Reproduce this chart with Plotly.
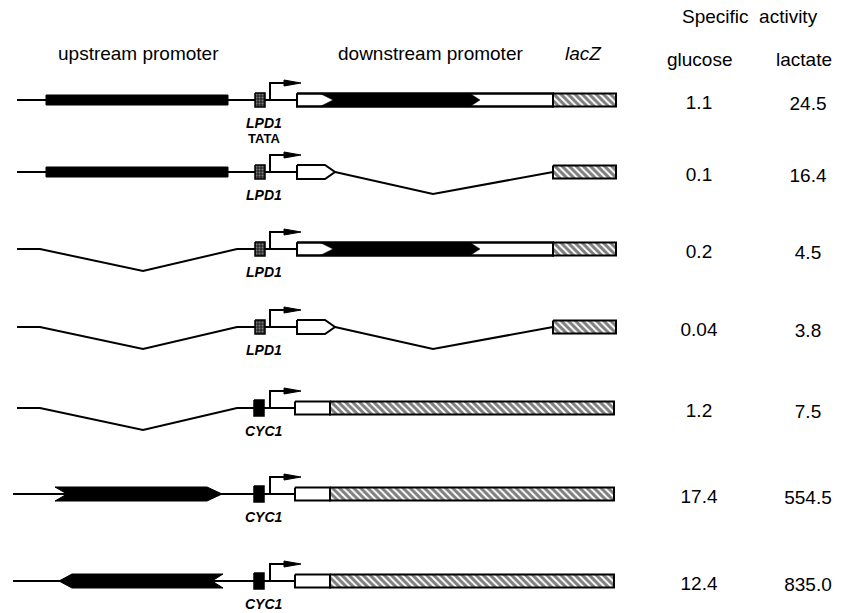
import plotly.graph_objects as go

# ---------------- data ----------------
upstream = ["UAS", "UAS", "deleted", "deleted", "deleted", "forward", "reverse"]
promoter = ["LPD1", "LPD1", "LPD1", "LPD1", "CYC1", "CYC1", "CYC1"]
promoter_note = ["TATA", "", "", "", "", "", ""]
downstream = ["full", "deleted", "full", "deleted", "short", "short", "short"]
glucose = ["1.1", "0.1", "0.2", "0.04", "1.2", "17.4", "12.4"]
lactate = ["24.5", "16.4", "4.5", "3.8", "7.5", "554.5", "835.0"]
column_headers = ["glucose", "lactate"]
section_headers = ["upstream promoter", "downstream promoter", "lacZ"]
title = "Specific activity"

# ---------------- layout geometry ----------------
W, H = 847, 613
ROW_Y = [100, 172, 249, 327, 408, 494, 581]
FONT = "Liberation Sans, Arial, Helvetica, sans-serif"
LW = 2

fig = go.Figure()


def line(xs, ys, width=LW, color="black"):
    fig.add_trace(go.Scatter(x=xs, y=ys, mode="lines",
                             line=dict(color=color, width=width),
                             hoverinfo="skip", showlegend=False))


def poly(xs, ys, fill="black", width=LW, pattern=None):
    xs = list(xs) + [xs[0]]
    ys = list(ys) + [ys[0]]
    kw = {}
    if pattern is not None:
        kw["fillpattern"] = pattern
    fig.add_trace(go.Scatter(x=xs, y=ys, mode="lines", fill="toself",
                             fillcolor=fill,
                             line=dict(color="black", width=width),
                             hoverinfo="skip", showlegend=False, **kw))


def rect(x0, x1, y0, y1, fill="white", width=LW, pattern=None):
    poly([x0, x1, x1, x0], [y0, y0, y1, y1], fill=fill, width=width, pattern=pattern)


HATCH = dict(shape="\\", bgcolor="white", fgcolor="black", size=5, solidity=0.6)
DOTS = dict(shape=".", bgcolor="#2a2a2a", fgcolor="#d0d0d0", size=3, solidity=0.35)

for i, y in enumerate(ROW_Y):
    # ---- upstream region ----
    up = upstream[i]
    if up == "deleted":
        line([17, 40, 143, 237, 297], [y, y, y + 22, y, y])
    else:
        x_start = 17 if up == "UAS" else 13
        line([x_start, 297], [y, y])
    if up == "UAS":
        rect(46, 228, y - 5, y + 5, fill="black", width=1)
    elif up == "forward":
        poly([55, 207, 222, 207, 55, 67], [y - 7, y - 7, y, y + 7, y + 7, y],
             fill="black", width=1)
    elif up == "reverse":
        poly([59, 72, 223, 212, 223, 72], [y, y - 7, y - 7, y, y + 7, y + 7],
             fill="black", width=1)

    # ---- promoter element ----
    if promoter[i] == "LPD1":
        rect(255, 265, y - 7, y + 7, fill="#2a2a2a", width=1.5, pattern=DOTS)
    else:
        rect(254, 264, y - 8, y + 8, fill="black", width=1.5)

    # transcription start arrow
    line([270, 270, 288], [y, y - 17, y - 17])
    poly([284, 301, 284], [y - 20, y - 17, y - 14], fill="black", width=1)

    # ---- downstream region + lacZ ----
    dn = downstream[i]
    h = 6.5
    if dn == "full":
        rect(297, 553, y - h, y + h, fill="white")
        poly([320, 470, 480, 470, 320, 333],
             [y - h, y - h, y, y + h, y + h, y], fill="black", width=0.5)
        rect(297, 553, y - h, y + h, fill="rgba(0,0,0,0)")
        rect(553, 616, y - h, y + h, pattern=HATCH)
    elif dn == "deleted":
        line([335, 433, 553], [y, y + 22, y])
        poly([297, 325, 335, 325, 297], [y - 7, y - 7, y, y + 7, y + 7], fill="white")
        rect(553, 616, y - h, y + h, pattern=HATCH)
    else:
        rect(295, 330, y - h, y + h, fill="white")
        rect(330, 614, y - h, y + h, pattern=HATCH)

# ---------------- text ----------------
anns = []
for i, y in enumerate(ROW_Y):
    anns.append(dict(x=264, y=y + 23, text=f"<b><i>{promoter[i]}</i></b>",
                     font=dict(size=14, family=FONT, color="black")))
    if promoter_note[i]:
        anns.append(dict(x=264, y=y + 38, text=f"<b>{promoter_note[i]}</b>",
                         font=dict(size=13, family=FONT, color="black")))

anns.append(dict(x=138, y=53, text=section_headers[0], font=dict(size=19, family=FONT, color="black")))
anns.append(dict(x=430, y=53, text=section_headers[1], font=dict(size=19, family=FONT, color="black")))
anns.append(dict(x=583, y=53, text=f"<i>{section_headers[2]}</i>", font=dict(size=19, family=FONT, color="black")))
anns.append(dict(x=750, y=16, text=title.replace(" ", "&nbsp;&nbsp;"), font=dict(size=19, family=FONT, color="black")))
anns.append(dict(x=700, y=59, text=column_headers[0], font=dict(size=19, family=FONT, color="black")))
anns.append(dict(x=804, y=59, text=column_headers[1], font=dict(size=19, family=FONT, color="black")))
for a in anns:
    a.update(xref="x", yref="y", showarrow=False, xanchor="center", yanchor="middle")

fig.add_trace(go.Scatter(x=[699] * len(glucose), y=[y + 4 for y in ROW_Y], mode="text",
                         text=glucose, textposition="middle center",
                         textfont=dict(size=19, family=FONT, color="black"),
                         hoverinfo="skip", showlegend=False))
fig.add_trace(go.Scatter(x=[808] * len(lactate), y=[y + 5 for y in ROW_Y], mode="text",
                         text=lactate, textposition="middle center",
                         textfont=dict(size=19, family=FONT, color="black"),
                         hoverinfo="skip", showlegend=False))

fig.update_layout(
    width=W, height=H,
    margin=dict(l=0, r=0, t=0, b=0),
    paper_bgcolor="white", plot_bgcolor="white",
    xaxis=dict(range=[0, W], visible=False, fixedrange=True),
    yaxis=dict(range=[H, 0], visible=False, fixedrange=True),
    annotations=anns,
    showlegend=False,
)

fig.write_html("out.html", config={"displayModeBar": False})

# remove the browser's default page margin so the figure sits at the top-left corner
with open("out.html", "r", encoding="utf-8") as f:
    html = f.read()
html = html.replace("<head>", "<head><style>html,body{margin:0;padding:0;overflow:hidden;}</style>", 1)
with open("out.html", "w", encoding="utf-8") as f:
    f.write(html)
